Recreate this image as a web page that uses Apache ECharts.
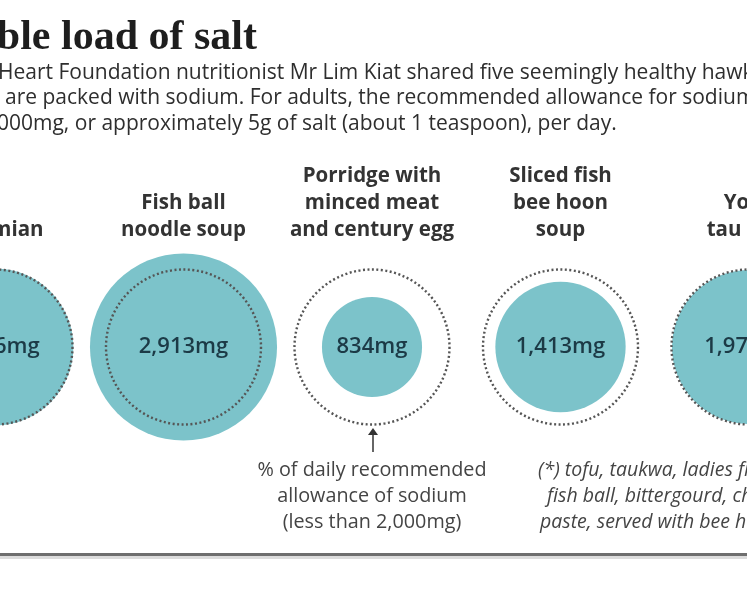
<!DOCTYPE html>
<html>
<head>
<meta charset="utf-8">
<script src="https://cdn.jsdelivr.net/npm/echarts@6/dist/echarts.min.js"></script>
<style>
html, body { margin: 0; padding: 0; background: #fff; }
#main { width: 747px; height: 598px; }
</style>
</head>
<body>
<div id="main"></div>
<script>
// dishes and their sodium content (mg)
var dishes = ['Ban mian', 'Fish ball\nnoodle soup', 'Porridge with\nminced meat\nand century egg', 'Sliced fish\nbee hoon\nsoup', 'Yong\ntau foo*'];
var sodium = [2046, 2913, 834, 1413, 1976];
var dailyLimit = 2000;

var introLines = [
    'Heart Foundation nutritionist Mr Lim Kiat shared five seemingly healthy hawker dishes',
    'are packed with sodium. For adults, the recommended allowance for sodium is less',
    '000mg, or approximately 5g of salt (about 1 teaspoon), per day.'
];
var legendLines = ['% of daily recommended', 'allowance of sodium', '(less than 2,000mg)'];
var noteLines = ['(*) tofu, taukwa, ladies fingers,', 'fish ball, bittergourd, chilli', 'paste, served with bee hoon'];

var ringSize = 155; // diameter of the 2,000mg dotted circle

var myChart = echarts.init(document.getElementById('main'));

var points = [], rings = [];
for (var i = 0; i < sodium.length; i++) {
    points.push([i, 0, sodium[i]]);
    rings.push([i, 0, dailyLimit]);
}

function areaSize(d) {
    return ringSize * Math.sqrt(d[2] / dailyLimit);
}

var graphics = [];
graphics.push({
    type: 'text', x: 257, y: 38,
    style: { text: 'A sizeable load of salt', fill: '#1e1e1e', font: 'bold 42px "Liberation Serif"', textAlign: 'right', textVerticalAlign: 'middle' }
});
var introX = [-2, 5, -3];
for (var j = 0; j < introLines.length; j++) {
    graphics.push({
        type: 'text', x: introX[j], y: 73 + j * 25.5,
        style: { text: introLines[j], fill: '#2e2e2e', font: '500 21px "Open Sans"', textVerticalAlign: 'middle' }
    });
}
for (var k = 0; k < legendLines.length; k++) {
    graphics.push({
        type: 'text', x: 372, y: 470 + k * 26,
        style: { text: legendLines[k], fill: '#444', font: '19.8px "Open Sans"', textAlign: 'center', textVerticalAlign: 'middle' }
    });
}
var noteX = [538, 547, 540];
for (var m = 0; m < noteLines.length; m++) {
    graphics.push({
        type: 'text', x: noteX[m], y: 470 + m * 26,
        style: { text: noteLines[m], fill: '#444', font: 'italic 19.5px "Open Sans"', textVerticalAlign: 'middle' }
    });
}
// arrow pointing at the dotted circle
graphics.push({ type: 'line', shape: { x1: 373, y1: 452, x2: 373, y2: 432 }, style: { stroke: '#333', lineWidth: 1.5 } });
graphics.push({ type: 'polygon', shape: { points: [[368, 435], [373, 428], [378, 435]] }, style: { fill: '#333' } });
// bottom rule
graphics.push({ type: 'rect', shape: { x: 0, y: 553, width: 747, height: 3 }, style: { fill: '#6e6e6e' } });
graphics.push({ type: 'rect', shape: { x: 0, y: 556, width: 747, height: 3 }, style: { fill: '#dcdcdc' } });

var option = {
    backgroundColor: '#fff',
    animation: false,
    graphic: graphics,
    grid: { left: -5, right: -2, top: 250, bottom: 154, outerBoundsMode: 'none', containLabel: false },
    xAxis: {
        type: 'category',
        position: 'top',
        boundaryGap: false,
        data: dishes,
        axisLine: { show: false },
        axisTick: { show: false },
        splitLine: { show: false },
        axisLabel: {
            interval: 0,
            margin: 6,
            color: '#333',
            fontFamily: 'Open Sans',
            fontWeight: 'bold',
            fontSize: 20.5,
            lineHeight: 27
        }
    },
    yAxis: { type: 'value', min: -1, max: 1, show: false },
    series: [
        {
            name: 'Sodium',
            type: 'scatter',
            data: points,
            symbol: 'circle',
            symbolSize: areaSize,
            silent: true,
            itemStyle: { color: '#7cc3ca', opacity: 1 },
            label: {
                show: true,
                position: 'inside',
                formatter: function (p) { return p.value[2].toLocaleString('en-US') + 'mg'; },
                color: '#1c3a46',
                fontFamily: 'Open Sans',
                fontWeight: 600,
                fontSize: 22
            }
        },
        {
            name: 'Daily limit',
            type: 'scatter',
            data: rings,
            symbol: 'circle',
            symbolSize: ringSize,
            silent: true,
            z: 3,
            itemStyle: {
                color: 'rgba(0,0,0,0)',
                borderColor: '#555',
                borderWidth: 2.4,
                borderType: [2, 2.5],
                opacity: 1
            }
        }
    ]
};
myChart.setOption(option);
</script>
</body>
</html>
